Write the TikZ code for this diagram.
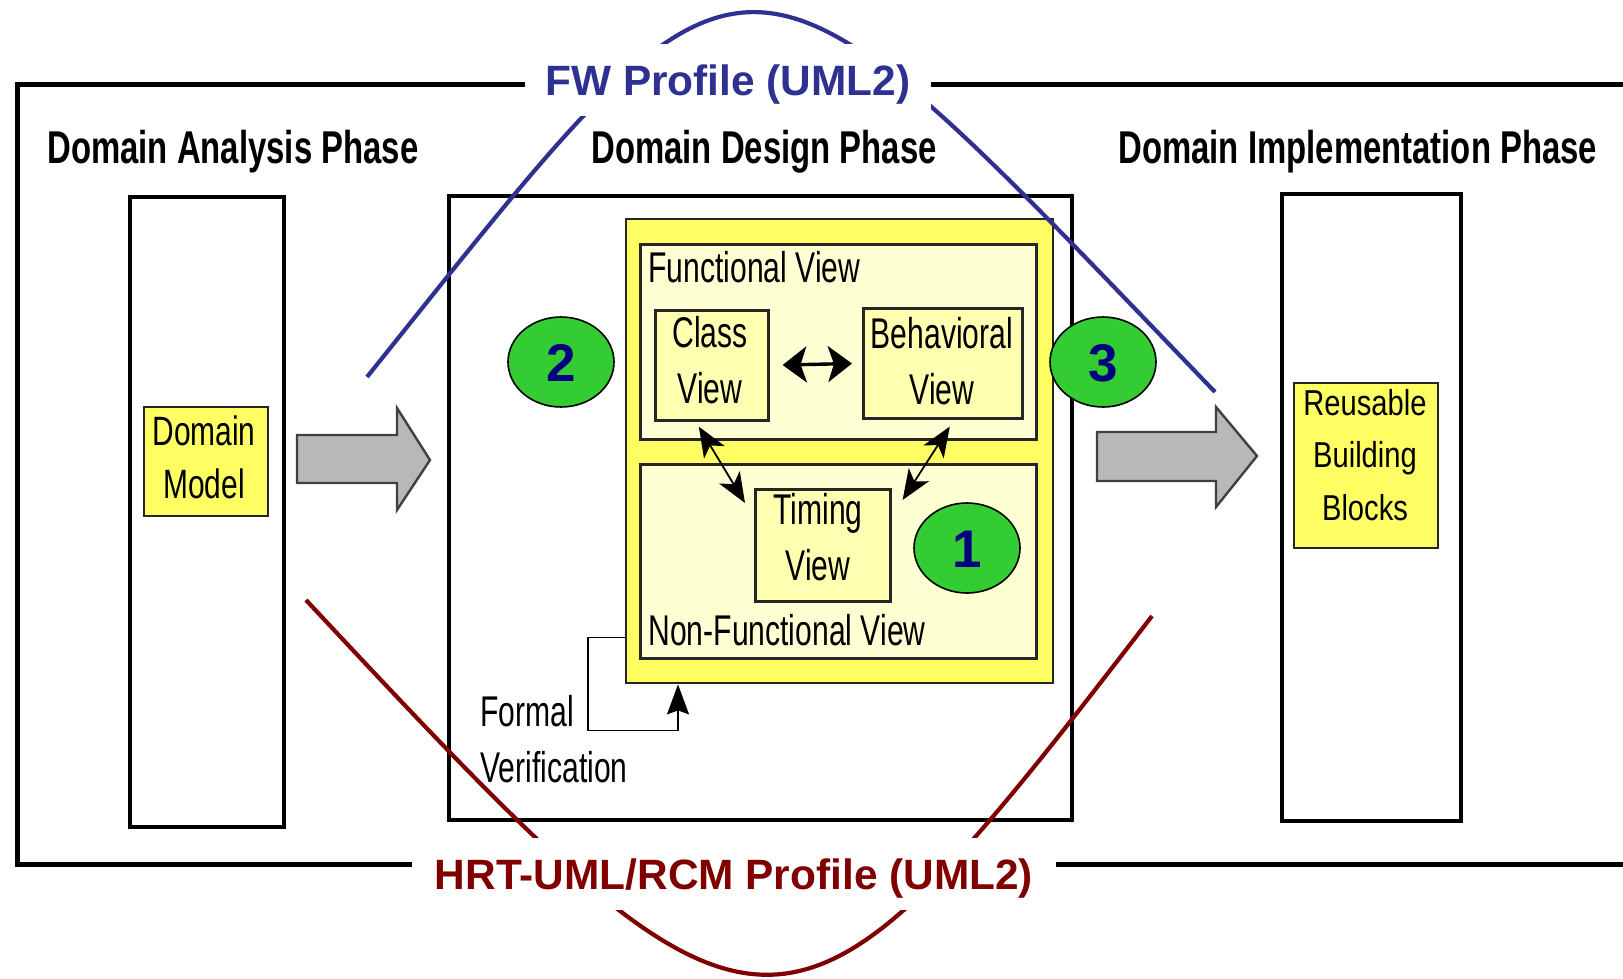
\documentclass[tikz,border=0pt]{standalone}
\usepackage{fontspec}
\setmainfont{Liberation Sans}
\newfontfamily\hdfont[FakeStretch=0.715]{Liberation Sans}
\newfontfamily\infont[FakeStretch=0.70]{Liberation Sans}
\newfontfamily\dmfont[FakeStretch=0.73]{Liberation Sans}
\newfontfamily\rbfont[FakeStretch=0.81]{Liberation Sans}
\usetikzlibrary{shapes.geometric,arrows.meta}
\definecolor{fwblue}{RGB}{46,49,146}
\definecolor{hrtred}{RGB}{128,0,0}
\definecolor{ybright}{RGB}{255,255,100}
\definecolor{ylight}{RGB}{255,255,212}
\definecolor{ymid}{RGB}{255,255,178}
\definecolor{badgegreen}{RGB}{51,204,51}
\definecolor{digitnavy}{RGB}{0,0,128}
\definecolor{arrowgrey}{RGB}{184,184,184}
\newcommand\mkbox[6]{\node[#6, anchor=north west, inner sep=0pt, minimum width={(#4-#2)*0.5pt}, minimum height={(#5-#3)*0.5pt}] (#1) at (#2,#3) {};}
\tikzset{
  frame/.style={draw=black, line width=2.5pt},
  colbox/.style={draw=black, line width=2.2pt, fill=white},
  yelbox/.style={draw=black!85, line width=1.2pt, fill=ybright},
  palebox/.style={draw=black!85, line width=1.3pt, fill=ylight},
  viewbox/.style={draw=black!85, line width=1.3pt, fill=ymid},
  head/.style={anchor=base west, inner sep=0pt, font=\hdfont\bfseries\fontsize{23pt}{28pt}\selectfont},
  inlbl/.style={inner sep=0pt, align=center, font=\infont\fontsize{21.5pt}{28pt}\selectfont},
  badge/.style={ellipse, draw=black, line width=0.8pt, fill=badgegreen, minimum width=53pt, minimum height=45pt, inner sep=0pt, text=digitnavy, font=\bfseries\fontsize{26.5pt}{30pt}\selectfont, text height=19pt, text depth=0pt},
  garrow/.style={draw=black!75, line width=1.2pt, fill=arrowgrey, line join=miter},
  dblarrow/.style={line width=1.7pt, {Stealth[length=12pt,width=18pt,inset=3pt]}-{Stealth[length=12pt,width=18pt,inset=3pt]}},
  diagarrow/.style={line width=0.9pt, {Stealth[length=15pt,width=12pt,inset=4pt]}-{Stealth[length=15pt,width=12pt,inset=4pt]}},
  fvline/.style={line width=0.9pt, -{Stealth[length=15pt,width=11pt,inset=2pt]}},
  profile/.style={line width=2.1pt},
  plabel/.style={fill=white, inner sep=0pt, font=\bfseries\fontsize{21.2pt}{25pt}\selectfont, text height=15.5pt, text depth=0pt},
}
\begin{document}
\begin{tikzpicture}[x=0.5pt, y=-0.5pt]
\useasboundingbox (0,0) rectangle (1623,979);
\clip (0,0) rectangle (1623,979);
% outer frame and phase columns
\mkbox{outer}{15}{82}{1700}{862}{frame}
\mkbox{analysis}{128}{195}{282}{825}{colbox}
\mkbox{design}{447}{194}{1070}{818}{colbox}
\mkbox{impl}{1280}{192}{1459}{819}{colbox}
% headings
\node[head] (hA) at (47,163) {Domain Analysis Phase};
\node[head] (hD) at (591,163) {Domain Design Phase};
\node[head] (hI) at (1118,163) {Domain Implementation Phase};
% yellow boxes
\mkbox{dmodel}{143}{406}{267}{515}{yelbox}
\node[inlbl, font=\dmfont\fontsize{20.5pt}{26.5pt}\selectfont] (dmtext) at (204,457) {Domain\\Model};
\mkbox{reuse}{1293}{382}{1437}{547}{yelbox}
\node[inlbl, font=\rbfont\fontsize{18pt}{26.2pt}\selectfont] (rbtext) at (1365,455) {Reusable\\Building\\Blocks};
\mkbox{ybox}{625}{218}{1052}{682}{yelbox}
\mkbox{func}{639}{243}{1035}{438}{palebox}
\mkbox{nonfunc}{639}{463}{1035}{657}{palebox}
\mkbox{classv}{654}{309}{767}{419}{viewbox}
\mkbox{behav}{862}{307}{1021}{417}{viewbox}
\mkbox{timing}{754}{488}{889}{600}{viewbox}
\node[inlbl, anchor=base west] (funclbl) at (648,282) {Functional View};
\node[inlbl, anchor=base west] (nflbl) at (648,645) {Non-Functional View};
\node[inlbl] (cvtext) at (710,360) {Class\\View};
\node[inlbl] (bvtext) at (942,361) {Behavioral\\View};
\node[inlbl] (tvtext) at (818,537) {Timing\\View};
% grey block arrows
\draw[garrow] (297,435) -- (397,435) -- (397,408) -- (430,460) -- (397,510) -- (397,483) -- (297,483) -- cycle;
\draw[garrow] (1097,432) -- (1216,432) -- (1216,407) -- (1257,456) -- (1216,507) -- (1216,481) -- (1097,481) -- cycle;
% connectors between views
\draw[dblarrow, shorten <=6.5pt, shorten >=5pt] (classv.east) -- (behav.west);
\coordinate (cvfoot) at ([xshift=-6.5pt,yshift=-2.5pt]classv.south);
\coordinate (tvnw) at ([xshift=-4.5pt,yshift=-7.5pt]timing.north west);
\coordinate (bvfoot) at ([xshift=3.5pt,yshift=-3.5pt]behav.south);
\coordinate (tvne) at ([xshift=5.5pt,yshift=-6pt]timing.north east);
\draw[diagarrow] (cvfoot) -- (tvnw);
\draw[diagarrow] (bvfoot) -- (tvne);
% formal verification loop
\node[inlbl, anchor=west, align=left] (fvtext) at (480,739) {Formal\\Verification};
\draw[fvline] ([yshift=23.5pt]ybox.south west) -- ++(-37,0) |- ([xshift=26.5pt,yshift=-23pt]ybox.south west) -- ([xshift=26.5pt]ybox.south west);
% numbered badges
\node[badge] (b2) at (561,362) {2};
\node[badge] (b3) at (1103,362) {3};
\node[badge] (b1) at (967,548) {1};
% profile arcs
\draw[profile, fwblue] (367,377) .. controls (759,-112) and (730,-112) .. (1215,392);
\draw[profile, hrtred] (306,600) .. controls (770,1097) and (782,1097) .. (1152,616);
% profile labels
\node[plabel, text=fwblue, minimum width=203pt, minimum height=36pt] (fw) at (728,80) {FW Profile (UML2)};
\node[plabel, text=hrtred, minimum width=322pt, minimum height=36pt] (hrt) at (734,874) {HRT-UML/RCM Profile (UML2)};
\end{tikzpicture}
\end{document}
